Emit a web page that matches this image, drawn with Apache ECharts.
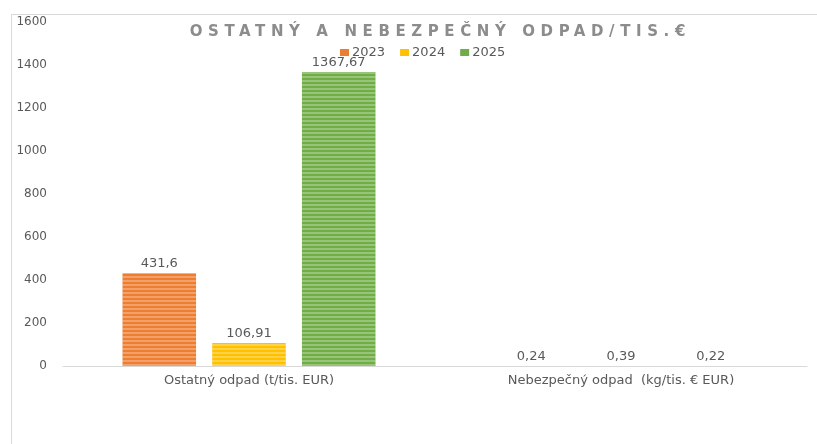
<!DOCTYPE html>
<html>
<head>
<meta charset="utf-8">
<script src="https://cdn.jsdelivr.net/npm/echarts@6/dist/echarts.min.js"></script>
<style>
html,body{margin:0;padding:0;background:#fff;}
#wrap{position:relative;width:817px;height:444px;overflow:hidden;}
#c{width:817px;height:444px;}
#title{position:absolute;left:437.5px;top:22px;transform:translateX(-50%);margin-left:2.8px;
  white-space:nowrap;font-family:"DejaVu Sans";font-weight:bold;font-size:15px;line-height:19px;
  letter-spacing:5.6px;color:#8c8c8c;}
</style>
</head>
<body>
<div id="wrap">
<div id="c"></div>
<div id="title">OSTATNÝ A NEBEZPEČNÝ ODPAD/TIS.€</div>
</div>
<script>
const categories = ['Ostatný odpad (t/tis. EUR)', 'Nebezpečný odpad  (kg/tis. € EUR)'];
const years = ['2023', '2024', '2025'];
const values2023 = [431.6, 0.24];
const values2024 = [106.91, 0.39];
const values2025 = [1367.67, 0.22];
const yTicks = [0, 200, 400, 600, 800, 1000, 1200, 1400, 1600];
const colors = ['#ED7D31', '#FFC000', '#70AD47'];

const font = 'DejaVu Sans';
const chart = echarts.init(document.getElementById('c'), null, {renderer: 'canvas'});

function fmt(v) { return String(v).replace('.', ','); }

const seriesData = [values2023, values2024, values2025];
const series = years.map((y, i) => ({
  name: y,
  type: 'bar',
  data: seriesData[i],
  barGap: '22%',
  barCategoryGap: '32%',
  itemStyle: {
    color: colors[i],
    decal: {
      symbol: 'rect',
      dashArrayX: [1, 0],
      dashArrayY: [2, 2],
      rotation: 0,
      color: 'rgba(255,255,255,0.28)'
    }
  },
  label: {
    show: true,
    position: 'top',
    distance: 3,
    color: '#595959',
    fontFamily: font,
    fontSize: 13,
    formatter: p => fmt(p.value)
  }
}));

chart.setOption({
  animation: false,
  backgroundColor: '#fff',
  legend: {
    data: years.map(y => ({name: y, itemStyle: {decal: 'none'}})),
    left: 335,
    top: 41,
    icon: 'rect',
    itemWidth: 9,
    itemHeight: 7,
    itemGap: 15,
    textStyle: {color: '#595959', fontFamily: font, fontSize: 13, padding: [0, 0, 0, -2]}
  },
  graphic: [{
    type: 'rect',
    left: 9,
    top: 12,
    shape: {width: 900, height: 500},
    style: {fill: 'none', stroke: '#d9d9d9', lineWidth: 1},
    silent: true,
    z: -1
  }],
  grid: {left: 63, right: 10, top: 22, bottom: 78},
  xAxis: {
    type: 'category',
    data: categories,
    axisTick: {show: false},
    axisLine: {lineStyle: {color: '#d9d9d9', width: 1}},
    axisLabel: {color: '#595959', fontFamily: font, fontSize: 13, margin: 8}
  },
  yAxis: {
    type: 'value',
    min: yTicks[0],
    max: yTicks[yTicks.length - 1],
    interval: 200,
    splitLine: {show: false},
    axisLine: {show: false},
    axisTick: {show: false},
    axisLabel: {color: '#595959', fontFamily: font, fontSize: 12, margin: 16, formatter: v => String(v)}
  },
  series: series
});
</script>
</body>
</html>
